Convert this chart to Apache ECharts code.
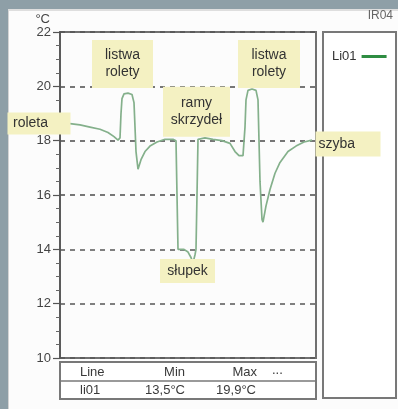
<!DOCTYPE html>
<html>
<head>
<meta charset="utf-8">
<script src="https://cdn.jsdelivr.net/npm/echarts@6/dist/echarts.min.js"></script>
<style>
  html, body { margin: 0; padding: 0; background: #8e9fa7; }
  #panel { position: absolute; left: 8px; top: 9px; right: 0; bottom: 0;
           background: #fcfcfc; border-left: 1px solid #d4d4d4; border-top: 2px solid #dedede; }
  #chart { position: absolute; left: 0; top: 0; width: 398px; height: 409px; }
</style>
</head>
<body>
<div id="panel"></div>
<div id="chart"></div>
<script>
// Temperature profile along measuring line Li01 (position units along the line, °C)
const pos = [10, 20, 30, 40, 48, 54, 58, 60, 61, 62, 64, 68, 72, 74, 75, 76, 78, 81, 85, 90, 97, 105,
  113, 116, 117, 118, 124, 128, 131, 133, 135, 136, 137, 138, 145, 153, 162, 170, 175, 179, 183,
  185, 186, 188, 192, 196, 198, 199, 200, 202, 203, 206, 210, 215, 220, 228, 236, 244, 252];
const temp = [18.63, 18.58, 18.5, 18.42, 18.3, 18.15, 18.02, 18.1, 19.0, 19.55, 19.72, 19.75, 19.7, 19.4,
  18.5, 17.6, 16.95, 17.3, 17.6, 17.8, 17.95, 18.05, 18.05, 18.0, 16.0, 14.0, 14.0, 13.9, 13.7, 13.5,
  13.8, 14.0, 16.0, 18.05, 18.1, 18.05, 18.0, 17.9, 17.6, 17.45, 17.45, 18.5, 19.5, 19.85, 19.9,
  19.85, 19.5, 18.0, 16.5, 15.1, 15.0, 15.6, 16.2, 16.8, 17.2, 17.6, 17.8, 17.95, 18.02];

const seriesName = 'Li01';
const tableLine = 'li01';
const tableHeader = ['Line', 'Min', 'Max', '...'];

// Callout notes: text and the data point they sit on
const notes = [
  { text: 'listwa\nrolety', coord: [62.5, 20.82], w: 61, h: 48 },
  { text: 'ramy\nskrzydeł', coord: [136.5, 19.06], w: 67, h: 50 },
  { text: 'listwa\nrolety', coord: [209, 20.82], w: 62, h: 48 },
  { text: 'słupek', coord: [127.5, 13.2], w: 55, h: 24 }
];

const FONT = 'Liberation Sans, Arial, sans-serif';
const NOTE_BG = '#f4f1c2';
const LINE_COLOR = '#84b08b';
const fmt = v => v.toFixed(1).replace('.', ',') + '°C';
const tMin = Math.min(...temp), tMax = Math.max(...temp);

const chart = echarts.init(document.getElementById('chart'), null, { renderer: 'canvas' });

const noteLabel = (n) => ({
  show: true, position: 'inside', formatter: n.text,
  width: n.w, height: n.h, backgroundColor: NOTE_BG,
  align: 'center', verticalAlign: 'middle', lineHeight: 17,
  fontFamily: FONT, fontSize: 14, color: '#333'
});

const markData = notes.map(n => ({ coord: n.coord, label: noteLabel(n) }));
// end-of-line notes hang off the first and last points of the profile
markData.push({
  coord: [pos[0], temp[0]],
  label: { show: true, position: 'inside', offset: [-31, 0], formatter: 'roleta', width: 40, height: 22,
    padding: [0, 20, 0, 3], backgroundColor: NOTE_BG, align: 'center', verticalAlign: 'middle',
    fontFamily: FONT, fontSize: 14, color: '#333' }
});
markData.push({
  coord: [pos[pos.length - 1], temp[temp.length - 1]],
  label: { show: true, position: 'right', distance: 3, offset: [0, 4], formatter: 'szyba', width: 62, height: 25,
    padding: [0, 0, 0, 3], backgroundColor: NOTE_BG, align: 'left', verticalAlign: 'middle',
    fontFamily: FONT, fontSize: 14, color: '#333' }
});

const txt = (text, x, y, align) => ({
  type: 'text', style: { text, x, y, align, verticalAlign: 'middle', font: '13px ' + FONT, fill: '#3a3a3a' }
});

chart.setOption({
  animation: false,
  backgroundColor: 'transparent',
  grid: { left: 60, top: 32, right: 82, bottom: 51, show: true, borderColor: '#707070', borderWidth: 2 },
  xAxis: { type: 'value', min: 0, max: 256, show: false },
  yAxis: {
    type: 'value', min: 10, max: 22, interval: 2,
    name: '°C', nameLocation: 'end', nameGap: 6,
    nameTextStyle: { fontFamily: FONT, fontSize: 13, color: '#444', align: 'right', padding: [0, 10, 0, 0] },
    axisLine: { show: true, lineStyle: { color: '#555', width: 1.5 } },
    axisTick: { show: true, length: 7, lineStyle: { color: '#555', width: 1.2 } },
    minorTick: { show: true, splitNumber: 4, length: 4, lineStyle: { color: '#666', width: 1 } },
    axisLabel: { margin: 9, fontFamily: FONT, fontSize: 13, color: '#444' },
    splitLine: { show: true, lineStyle: { color: '#555', width: 1.6, type: [5, 5] } }
  },
  legend: {
    orient: 'vertical', left: 327, top: 45, align: 'right',
    itemWidth: 25, itemHeight: 3, itemGap: 8,
    textStyle: { fontFamily: FONT, fontSize: 13, color: '#333' },
    data: [{ name: seriesName, icon: 'rect', itemStyle: { color: '#2e8d42' } }]
  },
  graphic: [
    { type: 'rect', shape: { x: 323, y: 32, width: 73, height: 366 },
      style: { fill: '#fff', stroke: '#787878', lineWidth: 2 } },
    { type: 'rect', shape: { x: 60, y: 362, width: 256, height: 37 },
      style: { fill: '#fff', stroke: '#787878', lineWidth: 2 } },
    { type: 'line', shape: { x1: 60, y1: 381, x2: 316, y2: 381 },
      style: { stroke: '#787878', lineWidth: 1.6 } },
    txt(tableHeader[0], 80, 372, 'left'),
    txt(tableHeader[1], 185, 372, 'right'),
    txt(tableHeader[2], 257, 372, 'right'),
    txt(tableHeader[3], 272, 370, 'left'),
    txt(tableLine, 80, 390, 'left'),
    txt(fmt(tMin), 185, 390, 'right'),
    txt(fmt(tMax), 256, 390, 'right'),
    { type: 'text', style: { text: 'IR04', x: 393, y: 16, align: 'right', verticalAlign: 'middle',
      font: '12px ' + FONT, fill: '#666' } }
  ],
  series: [{
    name: seriesName, type: 'line', symbol: 'none',
    data: pos.map((p, i) => [p, temp[i]]),
    lineStyle: { color: LINE_COLOR, width: 1.7 },
    itemStyle: { color: LINE_COLOR },
    markPoint: {
      symbol: 'rect', symbolSize: 1,
      itemStyle: { color: 'rgba(0,0,0,0)' },
      data: markData
    }
  }]
});
</script>
</body>
</html>
